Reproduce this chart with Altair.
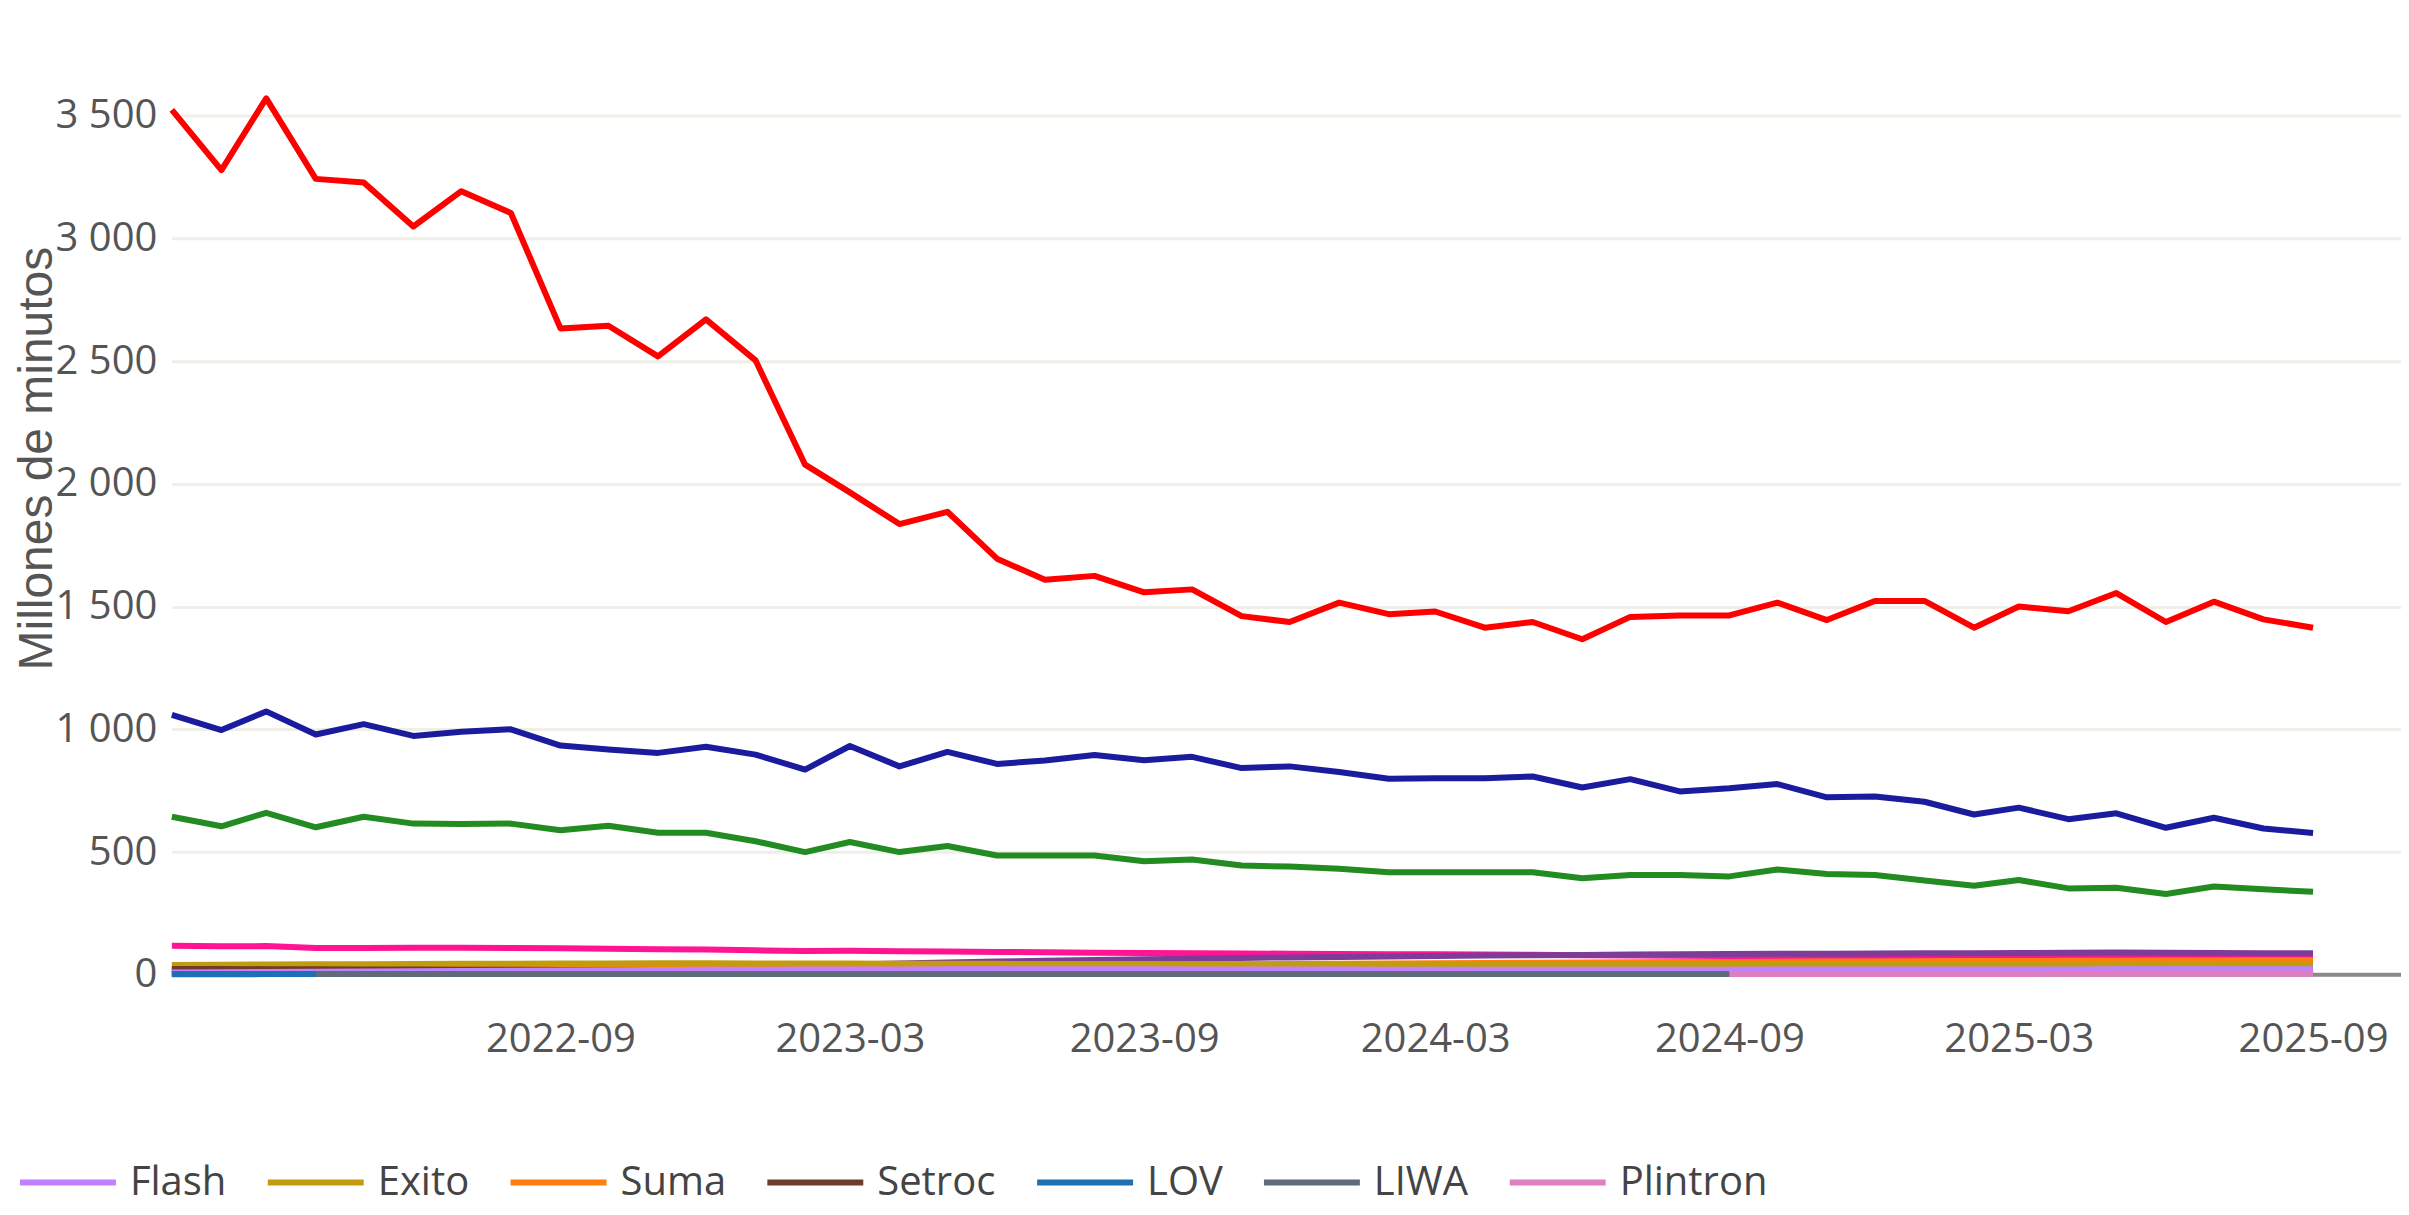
import altair as alt
import pandas as pd

# Monthly periods 2022-01 .. 2025-09
months = [f"{y}-{m:02d}-01" for y in range(2022, 2026) for m in range(1, 13)]
months = [d for d in months if d <= "2025-09-01"]

claro = [3523, 3278, 3570, 3242, 3227, 3048, 3192, 3103, 2633, 2644, 2519, 2670, 2503, 2078, 1965,
         1836, 1886, 1695, 1609, 1625, 1558, 1570, 1461, 1437, 1516, 1469, 1480, 1414, 1437, 1367,
         1458, 1464, 1464, 1516, 1445, 1523, 1523, 1414, 1500, 1481, 1555, 1437, 1520, 1448, 1414]
tigo = [1059, 997, 1073, 979, 1021, 973, 990, 1000, 934, 918, 904, 929, 897, 836, 932,
        849, 908, 859, 873, 895, 874, 888, 842, 849, 826, 799, 801, 801, 808, 763,
        797, 747, 760, 777, 723, 726, 705, 653, 681, 634, 658, 599, 640, 596, 578]
movistar = [644, 605, 660, 601, 644, 616, 614, 616, 589, 607, 579, 579, 544, 500, 541,
            500, 525, 486, 486, 486, 463, 470, 445, 441, 432, 418, 418, 418, 418, 393,
            407, 407, 401, 429, 411, 407, 384, 363, 386, 352, 355, 329, 360, 349, 338]
virgin = [118, 116, 117, 109, 109, 110, 110, 109, 108, 106, 104, 103, 100, 97, 98,
          96, 95, 93, 92, 90, 89, 88, 87, 86, 85, 84, 84, 83, 82, 80,
          79, 78, 77, 77, 76, 75, 74, 73, 72, 72, 71, 70, 69, 68, 67]
wom = [14, 15, 16, 17, 18, 19, 20, 22, 24, 26, 28, 31, 34, 38, 42,
       46, 50, 54, 57, 60, 63, 66, 69, 71, 73, 75, 77, 79, 80, 81,
       83, 84, 85, 86, 86, 87, 88, 88, 89, 90, 91, 90, 89, 88, 88]
suma = [22, 22, 23, 23, 24, 25, 26, 27, 28, 29, 30, 31, 32, 33, 34,
        35, 36, 37, 38, 40, 41, 42, 43, 44, 45, 46, 47, 48, 49, 50,
        51, 52, 52, 53, 54, 54, 55, 56, 56, 57, 57, 58, 58, 59, 59]
exito = [40, 41, 42, 43, 43, 44, 45, 45, 46, 46, 47, 47, 46, 46, 46,
         45, 45, 45, 44, 44, 44, 43, 43, 43, 43, 42, 42, 42, 42, 41,
         41, 41, 41, 41, 40, 40, 40, 40, 40, 41, 41, 42, 42, 43, 43]
setroc = [24, 24, 23, 23, 22, 22, 21, 21, 20, 20, 19, 19, 18, 18, 17,
          17, 16, 16, 15, 15, 14, 14, 13, 13, 12, 12, 12, 11, 11, 11,
          10, 10, 10, 10, 9, 9, 9, 9, 8, 8, 8, 8, 8, 7, 7]
flash = [10, 11, 12, 13, 14, 15, 16, 17, 18, 19, 20, 21, 21, 22, 22,
         22, 23, 23, 23, 23, 23, 22, 22, 22, 22, 21, 21, 21, 21, 21,
         21, 21, 21, 22, 22, 22, 22, 22, 22, 22, 23, 23, 23, 23, 23]
liwa = [2, 2, 3, 3, 3, 3, 3, 3, 3, 3, 3, 3, 3, 3, 3, 3, 3,
        3, 3, 3, 3, 3, 3, 3, 3, 3, 3, 3, 3, 3, 3, 3, 3]          # 2022-01 .. 2024-09
lov = [3, 3, 3, 3]                                               # 2022-01 .. 2022-04
plintron = [3, 3, 3, 3, 3, 3, 3, 4, 4, 4, 4, 4, 4]               # 2024-09 .. 2025-09

series = [
    ("Claro", 0, claro, "#ff0000"),
    ("Tigo", 0, tigo, "#1b1b9e"),
    ("Movistar", 0, movistar, "#228b22"),
    ("Virgin", 0, virgin, "#ff1493"),
    ("WOM", 0, wom, "#7d3c98"),
    ("Suma", 0, suma, "#ff7f0e"),
    ("Exito", 0, exito, "#c39b0f"),
    ("Setroc", 0, setroc, "#6b3d2a"),
    ("Flash", 0, flash, "#c080ff"),
    ("LIWA", 0, liwa, "#5f6b78"),
    ("LOV", 0, lov, "#1f6fb4"),
    ("Plintron", 32, plintron, "#e07fc0"),
]
legend_names = ["Flash", "Exito", "Suma", "Setroc", "LOV", "LIWA", "Plintron"]

rows = []
for name, start, vals, _ in series:
    for i, v in enumerate(vals):
        rows.append({"fecha": months[start + i], "operador": name, "value": v})
df = pd.DataFrame(rows)

names = [s[0] for s in series]
colors = [s[3] for s in series]

FONT = "Open Sans"
ydom = [-150, 3936]
yscale = alt.Scale(domain=ydom, nice=False, zero=False)

xvals = [alt.DateTime(year=y, month=m, date=1, utc=True)
         for (y, m) in [(2022, 9), (2023, 3), (2023, 9), (2024, 3), (2024, 9), (2025, 3), (2025, 9)]]
xscale = alt.Scale(type="utc",
                   domain=[alt.DateTime(year=2022, month=1, date=1, utc=True),
                           alt.DateTime(year=2025, month=10, date=26, utc=True)])

zero = alt.Chart(pd.DataFrame({"value": [0]})).mark_rule(
    color="#8a8a8a", strokeWidth=4
).encode(y=alt.Y("value:Q", scale=yscale))

lines = alt.Chart(df).mark_line(strokeWidth=6, strokeJoin="round").encode(
    x=alt.X("fecha:T", scale=xscale,
            axis=alt.Axis(values=xvals, labelExpr="utcFormat(datum.value, '%Y-%m')",
                          title=None, grid=False, domain=False, ticks=False,
                          labelFontSize=40, labelFont=FONT, labelColor="#555555",
                          labelPadding=8, labelLimit=400)),
    y=alt.Y("value:Q", scale=yscale,
            axis=alt.Axis(values=[0, 500, 1000, 1500, 2000, 2500, 3000, 3500],
                          labelExpr="replace(format(datum.value, ','), ',', ' ')",
                          title="Millones de minutos", grid=True, gridColor="#efefe8",
                          gridWidth=3, domain=False, ticks=False, tickSize=0,
                          labelFontSize=40, labelFont=FONT, labelColor="#555555",
                          labelPadding=15, titleFontSize=48, titleFont="Liberation Sans",
                          titleFontWeight="normal", titleColor="#555555",
                          titleX=-120, titleY=450, titleBaseline="alphabetic",
                          titleAngle=270, titleAlign="center")),
    color=alt.Color("operador:N",
                    scale=alt.Scale(domain=names, range=colors),
                    sort=names,
                    legend=alt.Legend(values=legend_names, orient="none",
                                      legendX=-155, legendY=1124,
                                      direction="horizontal", title=None,
                                      symbolType="stroke", symbolSize=9216,
                                      symbolStrokeWidth=6, labelFontSize=40,
                                      labelFont=FONT, labelColor="#444444",
                                      labelOffset=11, columnPadding=29,
                                      labelLimit=400, padding=0)),
)

chart = alt.layer(zero, lines).properties(
    width=2231, height=1004,
    padding={"left": 164, "top": 0, "right": 0, "bottom": 195},
    autosize=alt.AutoSizeParams(type="none"),
    background="white",
).configure_view(stroke=None)

chart.save("out.html", embed_options={"renderer": "svg", "actions": False})
